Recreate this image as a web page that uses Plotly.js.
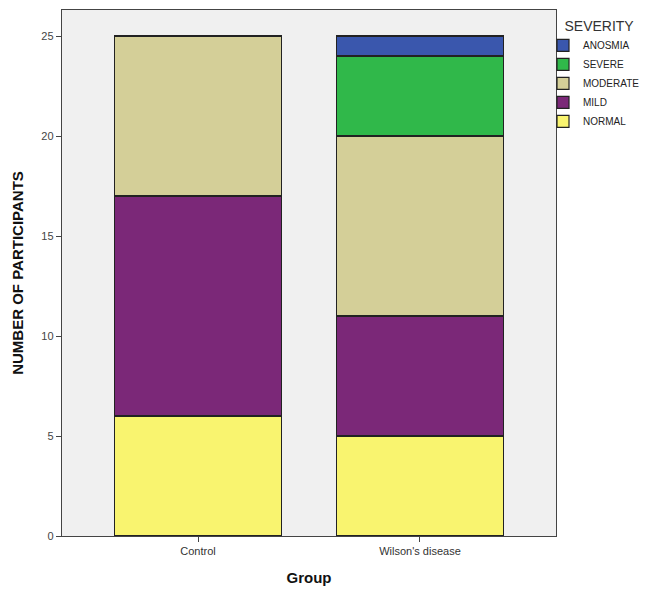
<!DOCTYPE html>
<html>
<head>
<meta charset="utf-8">
<script src="https://cdn.plot.ly/plotly-3.0.1.min.js"></script>
<style>html,body{margin:0;padding:0;background:#fff;}#chart{width:645px;height:590px;}</style>
</head>
<body>
<div id="chart"></div>
<script>
var groups = ["Control", "Wilson's disease"];
var normal = [6, 5];
var mild = [11, 6];
var moderate = [8, 9];
var severe = [0, 4];
var anosmia = [0, 1];
var seriesNames = ["NORMAL", "MILD", "MODERATE", "SEVERE", "ANOSMIA"];
var seriesValues = [normal, mild, moderate, severe, anosmia];
var seriesColors = ["#f9f46f", "#7b2878", "#d4cf98", "#30b84a", "#3a57ad"];

var traces = seriesNames.map(function (n, i) {
  return {
    type: "bar",
    name: n,
    x: groups,
    y: seriesValues[i],
    marker: {color: seriesColors[i], line: {color: "#222222", width: 1.2}},
    hoverinfo: "x+y+name"
  };
});

var layout = {
  width: 645,
  height: 590,
  margin: {l: 62, r: 89, t: 10, b: 54, autoexpand: false},
  paper_bgcolor: "#ffffff",
  plot_bgcolor: "#f0f0f0",
  barmode: "stack",
  bargap: 0.248,
  font: {family: "Liberation Sans, Arial, sans-serif", color: "#333333", size: 11},
  xaxis: {
    type: "category",
    range: [-0.613, 1.613],
    showgrid: false,
    zeroline: false,
    showline: true,
    mirror: true,
    linecolor: "#444444",
    linewidth: 1.2,
    ticks: "outside",
    ticklen: 5,
    tickcolor: "#444444",
    tickfont: {size: 11, color: "#333333"},
    title: {text: "Group", font: {size: 15, color: "#111111", family: "Liberation Sans, Arial, sans-serif", weight: "bold"}, standoff: 16}
  },
  yaxis: {
    range: [0, 26.3],
    tickvals: [0, 5, 10, 15, 20, 25],
    showgrid: false,
    zeroline: false,
    showline: true,
    mirror: true,
    linecolor: "#444444",
    linewidth: 1.2,
    ticks: "outside",
    ticklen: 5,
    tickcolor: "#444444",
    tickfont: {size: 11, color: "#444444"},
    title: {text: "NUMBER OF PARTICIPANTS", font: {size: 15, color: "#111111", family: "Liberation Sans, Arial, sans-serif", weight: "bold"}, standoff: 14}
  },
  legend: {
    x: 0.9737,
    y: 0.995,
    xanchor: "left",
    yanchor: "top",
    traceorder: "reversed",
    bgcolor: "rgba(0,0,0,0)",
    font: {size: 10, color: "#222222"},
    itemwidth: 30,
    title: {text: "\u00a0\u00a0\u00a0\u00a0\u00a0SEVERITY", font: {size: 14, color: "#333333"}}
  }
};

Plotly.newPlot("chart", traces, layout, {displayModeBar: false, staticPlot: true});
</script>
</body>
</html>
